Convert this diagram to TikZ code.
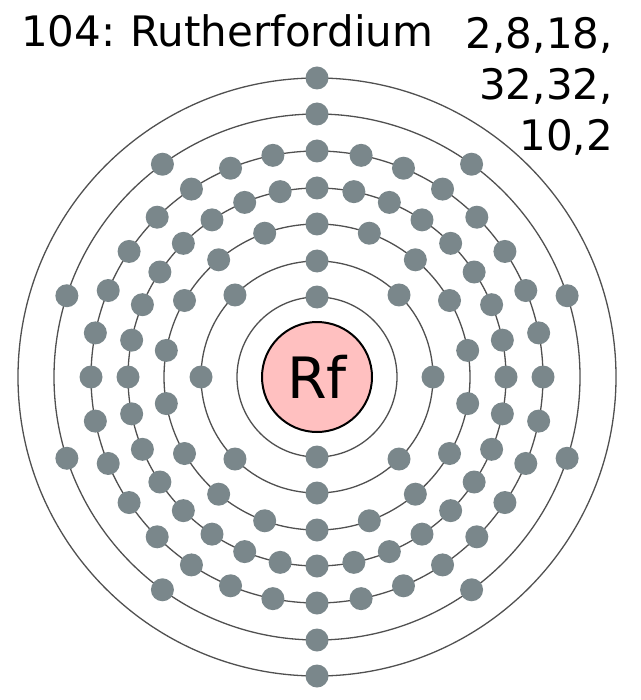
\documentclass[tikz,border=0pt]{standalone}
\usepackage{fontspec}
\setmainfont{DejaVu Sans}
\usetikzlibrary{positioning}
\definecolor{rfgray}{RGB}{122,135,139}
\definecolor{rfpink}{RGB}{255,192,192}
\definecolor{rfshell}{RGB}{80,80,80}
\tikzstyle{electron} = [circle, fill=rfgray, inner sep=0pt, minimum size=23pt]
\tikzstyle{shell} = [draw=rfshell, line width=1.3pt]
\tikzstyle{nucleus} = [circle, draw=black, line width=2pt, fill=rfpink,
    minimum size=110pt, inner sep=0pt, font=\fontsize{57}{60}\selectfont]
\tikzstyle{label} = [inner sep=0pt, font=\fontsize{42}{51}\selectfont]

\begin{document}
\begin{tikzpicture}[x=1pt, y=-1pt]
\useasboundingbox (0,0) rectangle (640,700);
\coordinate (c) at (317,377);
% shells, radius/electrons
\foreach \r/\n [count=\s] in {80/2,116/8,153/18,189/32,226/32,263/10,299/2} {
  \draw[shell] (c) circle[radius=\r pt];
  \foreach \k in {1,...,\n}
    \path (c) ++({90+360*(\k-1)/\n}:\r pt) node[electron] (e\s-\k) {};
}
\node[nucleus] (nuc) at (c) {Rf};
\node[label, anchor=base west] (title) at (21,47) {104:\hspace{-3pt} Rutherfordium};
\node[label, anchor=north east, align=right] (config) at (613,17) {2,8,18,\\32,32,\\10,2};
\end{tikzpicture}
\end{document}
